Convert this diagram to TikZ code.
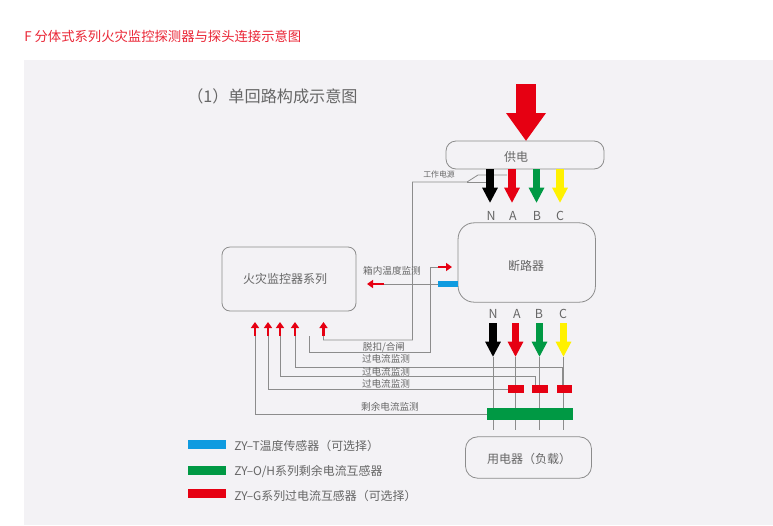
\documentclass[tikz,border=0pt]{standalone}
\usepackage{fontspec}
\setmainfont{Noto Sans CJK SC}
\usetikzlibrary{arrows.meta}
\definecolor{panel}{HTML}{F3F2F5}
\definecolor{fred}{HTML}{E60012}
\definecolor{fgreen}{HTML}{009944}
\definecolor{fyellow}{HTML}{FFF100}
\definecolor{fblue}{HTML}{0F9BE0}
\definecolor{txt}{HTML}{666666}
\definecolor{wire}{HTML}{8C8C8C}
\tikzset{
 box/.style={draw=wire,line width=.6pt,inner sep=0pt},
 boxtext/.style={text=txt,font=\fontsize{9}{11}\selectfont,inner sep=0pt},
 lbl/.style={text=txt,font=\fontsize{7.2}{9}\selectfont,inner sep=0pt},
 letter/.style={text=txt,font=\fontsize{9.3}{10}\selectfont,inner sep=0pt},
 legendtext/.style={text=txt,font=\fontsize{8.95}{10}\selectfont,inner sep=0pt,anchor=west},
 wireline/.style={draw=wire,line width=.6pt},
 fat/.style={line width=5.4pt,-{Triangle[length=11.5pt,width=11pt]}},
 tiny/.style={fred,line width=2.2pt,-{Triangle[length=4.5pt,width=6pt]}},
}
\begin{document}
\begin{tikzpicture}[x=.75pt,y=-.75pt]
\useasboundingbox (0,0) rectangle (773,525);
\fill[white] (0,0) rectangle (773,525);
\fill[panel] (24,60) rectangle (773,525);
\node[anchor=west,text=fred!85!white,font=\fontsize{10}{12}\selectfont,inner sep=0pt] (title) at (24,36) {F 分体式系列火灾监控探测器与探头连接示意图};
\node[anchor=west,text=txt,font=\fontsize{12.1}{14}\selectfont,inner sep=0pt] (sub) at (187,96) {（1）单回路构成示意图};
% boxes
\node[box,rounded corners=7.5pt,minimum width=118.5pt,minimum height=21pt] (supply) at (525,155) {};
\node[box,rounded corners=12pt,minimum width=103pt,minimum height=59.5pt] (breaker) at (526.75,262.5) {};
\node[box,rounded corners=6pt,minimum width=100.5pt,minimum height=48pt] (ctrl) at (289,279) {};
\node[box,rounded corners=9pt,minimum width=94.5pt,minimum height=31pt] (load) at (528.5,457.5) {};
\node[boxtext] (supplyt) at (516,157) {供电};
\node[boxtext] (breakert) at (526,266) {断路器};
\node[boxtext] (ctrlt) at (285,279) {火灾监控器系列};
\node[boxtext] (loadt) at (529,459) {用电器（负载）};
% coordinates
\foreach \n/\x/\y in {up1/526/84,up2/526/141,
 sn/490/169,sa/512/169,sb/536.5/169,sc/560/169,
 en/490/203,ea/512/203,eb/536.5/203,ec/560/203,
 tn/493/323,ta/515.5/323,tb/539.5/323,tc/563.5/323,
 un/493/357,ua/515.5/357,ub/539.5/357,uc/563.5/357,
 wn/493/430,wa/515.5/430,wb/539.5/430,wc/563.5/430,
 p1/507/175,p2/478/175,p3/467/182,p4/490/182,p5/412.5/182,p6/412.5/340,p7/323.5/340,
 q1/438/267,q2/430/267,q3/430/352,q4/309/352,q5/309/336,
 r1/438/284,r2/384/284,
 c1/562/385,c2/562/367,c3/295/367,c4/295/336,
 d1/535/385,d2/535/376,d3/280/376,d4/280/336,
 e1/508/389,e2/268/389,e3/268/336,
 f1/487/414,f2/255/414,f3/255/336,
 ar1s/323.5/336,ar1e/323.5/322,
 ar2s/295/336,ar2e/295/322,
 ar3s/280/336,ar3e/280/322,
 ar4s/268/336,ar4e/268/322,
 ar5s/255/336,ar5e/255/322,
 h1s/438/267,h1e/452/267,
 h2s/384/284,h2e/367/284}
 {\coordinate (\n) at (\x,\y);}
% wires
\draw[wireline] (p1) -- (p2) -- (p3) -- (p5) -- (p6) -- (p7) -- (ar1s);
\draw[wireline] (p3) -- (p4);
\draw[wireline] (q1) -- (q2) -- (q3) -- (q4) -- (q5);
\draw[wireline] (r1) -- (r2);
\draw[wireline] (c1) -- (c2) -- (c3) -- (c4);
\draw[wireline] (d1) -- (d2) -- (d3) -- (d4);
\draw[wireline] (e1) -- (e2) -- (e3);
\draw[wireline] (f1) -- (f2) -- (f3);
\foreach \a/\b in {un/wn,ua/wa,ub/wb,uc/wc} \draw[wireline] (\a) -- (\b);
% big arrow
\draw[fred,line width=14.3pt,-{Triangle[length=21pt,width=28.5pt]}] (up1) -- (up2);
% phase arrows
\draw[fat,black] (sn) -- (en);
\draw[fat,fred] (sa) -- (ea);
\draw[fat,fgreen] (sb) -- (eb);
\draw[fat,fyellow] (sc) -- (ec);
\draw[fat,black] (tn) -- (un);
\draw[fat,fred] (ta) -- (ua);
\draw[fat,fgreen] (tb) -- (ub);
\draw[fat,fyellow] (tc) -- (uc);
% small arrows
\foreach \a in {ar1,ar2,ar3,ar4,ar5,h1,h2} \draw[tiny] (\a s) -- (\a e);
% sensors
\node[fill=fblue,minimum width=15pt,minimum height=3.9pt,inner sep=0pt] (sensorT) at (448,284) {};
\foreach \n/\x in {ga/516,gb/540,gc/564.5}
 \node[fill=fred,minimum width=11.6pt,minimum height=6pt,inner sep=0pt] (\n) at (\x,389) {};
\node[fill=fgreen,minimum width=64.5pt,minimum height=9pt,inner sep=0pt] (sensorO) at (530,414) {};
% letters
\foreach \n/\t/\x/\y in {l1/N/491/216,l2/A/513/216,l3/B/537/216,l4/C/560/216,l5/N/493/314,l6/A/517/314,l7/B/539/314,l8/C/563/314}
 \node[letter] (\n) at (\x,\y) {\t};
% labels
\node[lbl,font=\fontsize{5.9}{7}\selectfont] (work) at (439,175) {工作电源};
\node[lbl] (t1) at (392,271) {箱内温度监测};
\node[lbl] (t2) at (384,347) {脱扣/合闸};
\node[lbl] (t3) at (386,359) {过电流监测};
\node[lbl] (t4) at (386,372) {过电流监测};
\node[lbl] (t5) at (386,384) {过电流监测};
\node[lbl] (t6) at (390,407) {剩余电流监测};
% legend
\node[fill=fblue,minimum width=28.5pt,minimum height=6.5pt,inner sep=0pt] (k1) at (207,444.5) {};
\node[fill=fgreen,minimum width=28.5pt,minimum height=6.5pt,inner sep=0pt] (k2) at (207,470.5) {};
\node[fill=fred,minimum width=28.5pt,minimum height=6.5pt,inner sep=0pt] (k3) at (207,493.5) {};
\node[legendtext] (k1t) at (234,446) {ZY–T温度传感器（可选择）};
\node[legendtext] (k2t) at (234,471) {ZY–O/H系列剩余电流互感器};
\node[legendtext] (k3t) at (234,496) {ZY–G系列过电流互感器（可选择）};
\end{tikzpicture}
\end{document}
